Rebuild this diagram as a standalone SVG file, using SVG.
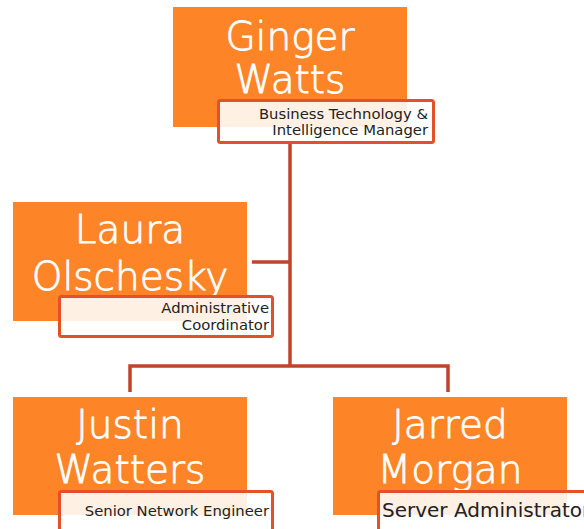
<svg xmlns="http://www.w3.org/2000/svg" width="584" height="529" viewBox="0 0 584 529">
<style>
.box{fill:#FD8527}
.lbl{fill:#FFFFFF;fill-opacity:0.88;stroke:#E4502A;stroke-width:3}
.name{font-family:"DejaVu Sans","Liberation Sans",sans-serif;font-weight:200;font-size:39px;fill:#FFFFFF;stroke:#FFFFFF;stroke-width:0.8;text-anchor:middle}
.role{font-family:"DejaVu Sans","Liberation Sans",sans-serif;font-size:14.8px;fill:#222222;text-anchor:end}
.conn{fill:none;stroke:#C0432A;stroke-width:3.5}
</style>
<rect width="584" height="529" fill="#FFFFFF"/>
<g id="connectors">
<path class="conn" d="M290 144 V366"/>
<path class="conn" d="M252 262 H290"/>
<path class="conn" d="M130 392 V366 H448 V392"/>
</g>
<g id="ginger">
<rect class="box" x="173" y="7" width="234" height="120"/>
<text class="name" x="290" y="50">Ginger</text>
<text class="name" x="290" y="93">Watts</text>
<rect class="lbl" x="218.5" y="100.5" width="215" height="42" rx="2"/>
<text class="role" x="428" y="119">Business Technology &amp;</text>
<text class="role" x="428" y="135">Intelligence Manager</text>
</g>
<g id="laura">
<rect class="box" x="13" y="202" width="234" height="119"/>
<text class="name" x="130" y="243">Laura</text>
<text class="name" x="130" y="290">Olschesky</text>
<rect class="lbl" x="59.5" y="296.5" width="213" height="40" rx="2"/>
<text class="role" x="269" y="313">Administrative</text>
<text class="role" x="269" y="330">Coordinator</text>
</g>
<g id="justin">
<rect class="box" x="13" y="397" width="234" height="118"/>
<text class="name" x="130" y="438">Justin</text>
<text class="name" x="130" y="483">Watters</text>
<rect class="lbl" x="59.5" y="491.5" width="213" height="50" rx="2"/>
<text class="role" x="269" y="516">Senior Network Engineer</text>
</g>
<g id="jarred">
<rect class="box" x="333" y="397" width="234" height="118"/>
<text class="name" x="450" y="438">Jarred</text>
<text class="name" x="450" y="483">Morgan</text>
<rect class="lbl" x="378.5" y="491.5" width="220" height="50" rx="2"/>
<text class="role" x="382" y="517" style="font-size:20px;text-anchor:start">Server Administrator</text>
</g>
</svg>
